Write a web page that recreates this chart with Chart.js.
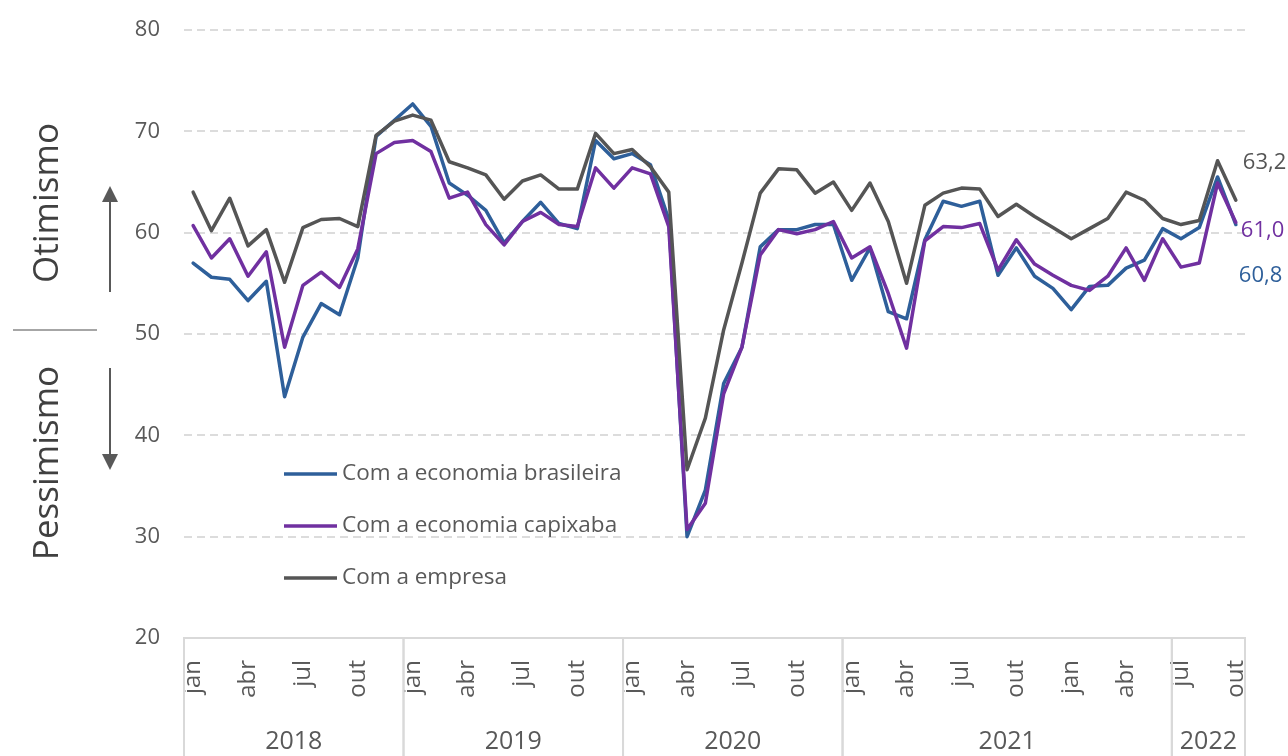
<!DOCTYPE html>
<html lang="pt-BR">
<head>
<meta charset="utf-8">
<title>Índice de confiança</title>
<script src="https://cdn.jsdelivr.net/npm/chart.js@4.4.1/dist/chart.umd.min.js"></script>
<style>
  html, body { margin: 0; padding: 0; background: #fff; }
  #wrap { width: 1288px; height: 756px; position: relative; }
</style>
</head>
<body>
<div id="wrap"><canvas id="chart" width="1288" height="756"></canvas></div>
<script>
// months jan/2018 .. out/2022, grouped the way the original axis groups them
const monthNames = ['jan', 'fev', 'mar', 'abr', 'mai', 'jun', 'jul', 'ago', 'set', 'out', 'nov', 'dez'];
const yearGroups = ['2018', '2019', '2020', '2021', '2022'];
const groupSizes = [12, 12, 12, 18, 4];

const economiaBrasileira = [
  57.0, 55.6, 55.4, 53.3, 55.2, 43.8, 49.7, 53.0, 51.9, 57.5, 69.5, 71.1,
  72.7, 70.5, 64.9, 63.7, 62.2, 59.0, 61.1, 63.0, 60.9, 60.4, 69.1, 67.3,
  67.8, 66.7, 61.3, 30.0, 34.6, 45.1, 48.7, 58.6, 60.3, 60.3, 60.8, 60.8,
  55.3, 58.5, 52.2, 51.5, 59.3, 63.1, 62.6, 63.1, 55.8, 58.5, 55.7, 54.5,
  52.4, 54.7, 54.8, 56.5, 57.3, 60.4, 59.4, 60.5, 65.5, 60.8
];
const economiaCapixaba = [
  60.7, 57.5, 59.4, 55.7, 58.1, 48.7, 54.8, 56.1, 54.6, 58.4, 67.8, 68.9,
  69.1, 68.0, 63.4, 64.0, 60.8, 58.8, 61.1, 62.0, 60.8, 60.6, 66.4, 64.4,
  66.4, 65.8, 60.6, 30.7, 33.3, 44.1, 48.7, 57.8, 60.3, 59.9, 60.3, 61.1,
  57.5, 58.6, 54.0, 48.6, 59.2, 60.6, 60.5, 60.9, 56.3, 59.3, 56.9, 55.8,
  54.8, 54.3, 55.7, 58.5, 55.3, 59.4, 56.6, 57.0, 64.9, 61.0
];
const empresa = [
  64.0, 60.2, 63.4, 58.7, 60.3, 55.1, 60.5, 61.3, 61.4, 60.6, 69.6, 71.0,
  71.6, 71.1, 67.0, 66.4, 65.7, 63.3, 65.1, 65.7, 64.3, 64.3, 69.8, 67.8,
  68.2, 66.5, 64.0, 36.6, 41.7, 50.4, 57.0, 63.9, 66.3, 66.2, 63.9, 65.0,
  62.2, 64.9, 61.1, 55.0, 62.7, 63.9, 64.4, 64.3, 61.6, 62.8, 61.6, 60.5,
  59.4, 60.4, 61.4, 64.0, 63.2, 61.4, 60.8, 61.2, 67.1, 63.2
];

const monthLabels = economiaBrasileira.map((_, i) => monthNames[i % 12]);

const FONT = '"Open Sans", "DejaVu Sans", sans-serif';
const TXT = '#595959';

const series = [
  { label: 'Com a economia brasileira', data: economiaBrasileira, color: '#2e5f9a', order: 3, dx: 3, dy: 51 },
  { label: 'Com a economia capixaba', data: economiaCapixaba, color: '#7030a0', order: 2, dx: 5, dy: 8 },
  { label: 'Com a empresa', data: empresa, color: '#555555', order: 1, dx: 7, dy: -38 },
];

function arrow(ctx, x, y0, y1) {
  const dir = y1 < y0 ? -1 : 1;
  ctx.beginPath();
  ctx.moveTo(x, y0);
  ctx.lineTo(x, y1 - dir * 14);
  ctx.stroke();
  ctx.beginPath();
  ctx.moveTo(x, y1);
  ctx.lineTo(x - 8, y1 - dir * 16);
  ctx.lineTo(x + 8, y1 - dir * 16);
  ctx.closePath();
  ctx.fill();
}

const decor = {
  id: 'decor',
  afterDraw(chart) {
    const { ctx, chartArea, scales: { x } } = chart;
    const H = chart.height;
    ctx.save();

    // year groups under the month labels
    const step = x.getPixelForValue(1) - x.getPixelForValue(0);
    let start = 0;
    ctx.strokeStyle = '#d9d9d9';
    ctx.lineWidth = 2;
    ctx.font = '25px ' + FONT;
    ctx.fillStyle = TXT;
    ctx.textAlign = 'center';
    ctx.textBaseline = 'middle';
    groupSizes.forEach((n, g) => {
      const x0 = x.getPixelForValue(start) - step / 2;
      const x1 = x.getPixelForValue(start + n - 1) + step / 2;
      [x0, x1].forEach(px => {
        ctx.beginPath();
        ctx.moveTo(px, chartArea.bottom);
        ctx.lineTo(px, H);
        ctx.stroke();
      });
      ctx.fillText(yearGroups[g], (x0 + x1) / 2, 742);
      start += n;
    });

    // legend inside the plot
    ctx.font = '22.5px ' + FONT;
    ctx.textAlign = 'left';
    series.forEach((s, i) => {
      const ly = 474 + i * 52;
      ctx.strokeStyle = s.color;
      ctx.lineWidth = 3.5;
      ctx.beginPath();
      ctx.moveTo(284, ly);
      ctx.lineTo(337, ly);
      ctx.stroke();
      ctx.fillStyle = TXT;
      ctx.fillText(s.label, 342, ly);
    });

    // last value labels
    ctx.font = '22px ' + FONT;
    series.forEach((s, i) => {
      const meta = chart.getDatasetMeta(i);
      const pt = meta.data[meta.data.length - 1];
      const v = s.data[s.data.length - 1];
      ctx.fillStyle = s.color;
      ctx.fillText(v.toFixed(1).replace('.', ','), pt.x + s.dx, pt.y + s.dy);
    });

    // otimismo / pessimismo
    ctx.fillStyle = '#404040';
    ctx.font = '35px ' + FONT;
    ctx.textAlign = 'center';
    [['Otimismo', 203], ['Pessimismo', 463]].forEach(([t, cy]) => {
      ctx.save();
      ctx.translate(48, cy);
      ctx.rotate(-Math.PI / 2);
      ctx.fillText(t, 0, 0);
      ctx.restore();
    });
    ctx.strokeStyle = '#a6a6a6';
    ctx.lineWidth = 2;
    ctx.beginPath();
    ctx.moveTo(13, 330);
    ctx.lineTo(97, 330);
    ctx.stroke();
    ctx.strokeStyle = '#595959';
    ctx.fillStyle = '#595959';
    arrow(ctx, 110, 292, 186);
    arrow(ctx, 110, 368, 470);

    ctx.restore();
  }
};

new Chart(document.getElementById('chart'), {
  type: 'line',
  data: {
    labels: monthLabels,
    datasets: series.map(s => ({
      label: s.label,
      data: s.data,
      borderColor: s.color,
      backgroundColor: s.color,
      borderWidth: 3.5,
      pointRadius: 0,
      tension: 0,
      borderJoinStyle: 'round',
      borderCapStyle: 'round',
      order: s.order,
    }))
  },
  options: {
    responsive: false,
    animation: false,
    devicePixelRatio: 1,
    layout: { padding: { left: 0, right: 43, top: 30, bottom: 0 } },
    plugins: { legend: { display: false }, tooltip: { enabled: false } },
    scales: {
      x: {
        type: 'category',
        offset: true,
        grid: { color: 'rgba(0,0,0,0)', drawTicks: false },
        border: { display: true, color: '#d9d9d9', width: 2 },
        ticks: {
          autoSkip: false,
          minRotation: 90,
          maxRotation: 90,
          padding: 22,
          color: TXT,
          font: { family: FONT, size: 24 },
          callback: (v, i) => (i % 3 === 0 ? monthLabels[i] : '')
        },
        afterFit: s => { s.height = 118; s.paddingLeft = 0; s.paddingRight = 0; }
      },
      y: {
        min: 20,
        max: 80,
        grid: {
          drawTicks: false,
          lineWidth: 2,
          color: c => (c.tick && c.tick.value === 20 ? 'rgba(0,0,0,0)' : '#dcdcdc')
        },
        border: { display: false, dash: [8, 5] },
        ticks: {
          stepSize: 10,
          padding: 24,
          color: TXT,
          font: { family: FONT, size: 22 }
        },
        afterFit: s => { s.width = 184; s.paddingTop = 0; s.paddingBottom = 0; }
      }
    }
  },
  plugins: [decor]
});
</script>
</body>
</html>
